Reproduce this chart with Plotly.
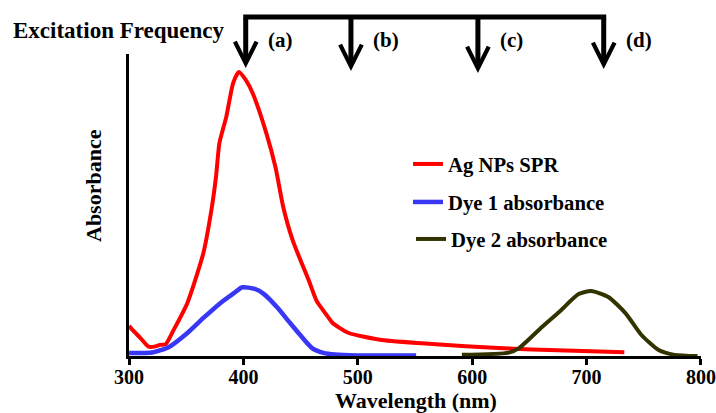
import plotly.graph_objects as go

# ---------------- data ----------------
wl_ag = [300, 303, 310, 317, 322, 327, 332, 339, 351, 365, 372, 376, 379, 385, 391,
         396, 402, 408, 420, 428, 435, 443, 458, 464, 472, 478, 484, 492, 521, 565,
         623, 682, 733]
abs_ag = [0.106, 0.092, 0.063, 0.033, 0.033, 0.039, 0.042, 0.092, 0.187, 0.363, 0.514,
          0.630, 0.750, 0.842, 0.961, 1.000, 0.972, 0.926, 0.785, 0.665, 0.521, 0.408,
          0.257, 0.194, 0.148, 0.116, 0.099, 0.081, 0.056, 0.042, 0.028, 0.019, 0.013]

wl_dye1 = [300, 320, 335, 351, 365, 380, 392, 399, 410, 418, 430, 440, 450, 460, 470,
           480, 500, 551]
abs_dye1 = [0.011, 0.012, 0.032, 0.081, 0.134, 0.187, 0.222, 0.242, 0.236, 0.218, 0.169,
            0.120, 0.072, 0.028, 0.011, 0.005, 0.002, 0.002]

wl_dye2 = [591, 632, 641, 661, 676, 693, 704, 719, 734, 748, 763, 777, 797]
abs_dye2 = [0.004, 0.012, 0.028, 0.102, 0.155, 0.218, 0.229, 0.208, 0.151, 0.074,
            0.021, 0.004, 0.0]

x_ticks = [300, 400, 500, 600, 700, 800]
excitation_nm = [402, 494, 605, 715]
excitation_labels = ["(a)", "(b)", "(c)", "(d)"]
series_names = ["Ag NPs SPR", "Dye 1 absorbance", "Dye 2 absorbance"]
series_colors = ["#FF0000", "#3737F5", "#333300"]

# ---------------- figure ----------------
FONT = "Liberation Serif, Times New Roman, serif"
W, H = 716, 413
L, R, T, B = 129, 15, 54, 57
PW = W - L - R
PH = H - T - B  # plot height in px


def py_to_paper(py):
    return (H - B - py) / PH


def px_to_paper(px):
    return (px - L) / PW


fig = go.Figure()
for wl, ab, name, col, lw, leg in [
    (wl_ag, abs_ag, series_names[0], series_colors[0], 4, "legend"),
    (wl_dye1, abs_dye1, series_names[1], series_colors[1], 4.5, "legend2"),
    (wl_dye2, abs_dye2, series_names[2], series_colors[2], 4, "legend3"),
]:
    fig.add_trace(go.Scatter(
        x=wl, y=ab, mode="lines", name=name, legend=leg,
        line=dict(color=col, width=lw, shape="spline", smoothing=0.6),
    ))

# excitation arrows
tips_py = [68, 71, 73, 69]
tail_py = 17
for xv, lab, tp in zip(excitation_nm, excitation_labels, tips_py):
    fig.add_annotation(
        x=xv, y=py_to_paper(tp), xref="x", yref="paper",
        ax=0, ay=tail_py - tp, axref="pixel", ayref="pixel",
        text="", showarrow=True, arrowhead=5, arrowsize=0.85,
        arrowwidth=5, arrowcolor="black", standoff=0,
    )
    fig.add_annotation(
        x=xv, y=py_to_paper(40), xref="x", yref="paper",
        text=lab, showarrow=False, xanchor="left", yanchor="middle", xshift=20,
        font=dict(family=FONT, size=21, color="black", weight="bold"),
    )

pad_nm = 2.5 * 500 / PW
fig.add_shape(
    type="line", xref="x", yref="paper",
    x0=excitation_nm[0] - pad_nm, x1=excitation_nm[-1] + pad_nm,
    y0=py_to_paper(tail_py), y1=py_to_paper(tail_py),
    line=dict(color="black", width=5),
)

fig.add_annotation(
    x=px_to_paper(11), y=py_to_paper(30), xref="paper", yref="paper",
    text="Excitation Frequency", showarrow=False, xanchor="left", yanchor="middle",
    font=dict(family=FONT, size=23, color="black", weight="bold"),
)
fig.add_annotation(
    x=px_to_paper(93), y=py_to_paper(186), xref="paper", yref="paper",
    text="Absorbance", showarrow=False, textangle=-90, xanchor="center", yanchor="middle",
    font=dict(family=FONT, size=22, color="black", weight="bold"),
)
fig.add_annotation(
    x=px_to_paper(416), y=py_to_paper(400), xref="paper", yref="paper",
    text="Wavelength (nm)", showarrow=False, xanchor="center", yanchor="middle",
    font=dict(family=FONT, size=22, color="black", weight="bold"),
)

legfont = dict(family=FONT, size=20.7, color="black", weight="bold")
common_leg = dict(xanchor="left", yanchor="middle", bgcolor="rgba(0,0,0,0)",
                  borderwidth=0, font=legfont)

fig.update_layout(
    width=W, height=H,
    margin=dict(l=L, r=R, t=T, b=B, pad=0, autoexpand=False),
    paper_bgcolor="white", plot_bgcolor="white",
    showlegend=True,
    legend=dict(x=px_to_paper(408), y=py_to_paper(164), **common_leg),
    legend2=dict(x=px_to_paper(408), y=py_to_paper(202), **common_leg),
    legend3=dict(x=px_to_paper(411), y=py_to_paper(239), **common_leg),
    xaxis=dict(
        range=[299.95, 800.05], tickvals=x_ticks, ticktext=[str(t) for t in x_ticks],
        showline=True, linecolor="black", linewidth=3,
        ticks="outside", ticklen=6, tickwidth=3, tickcolor="black",
        ticklabelstandoff=-5, ticklabeloverflow="allow", automargin=False,
        showgrid=False, zeroline=False,
        tickfont=dict(family=FONT, size=20, color="black", weight="bold"),
    ),
    yaxis=dict(
        range=[0, PH / 284], showline=True, linecolor="black", linewidth=3,
        showticklabels=False, ticks="", showgrid=False, zeroline=False,
        automargin=False,
    ),
)

fig.write_html("out.html")
